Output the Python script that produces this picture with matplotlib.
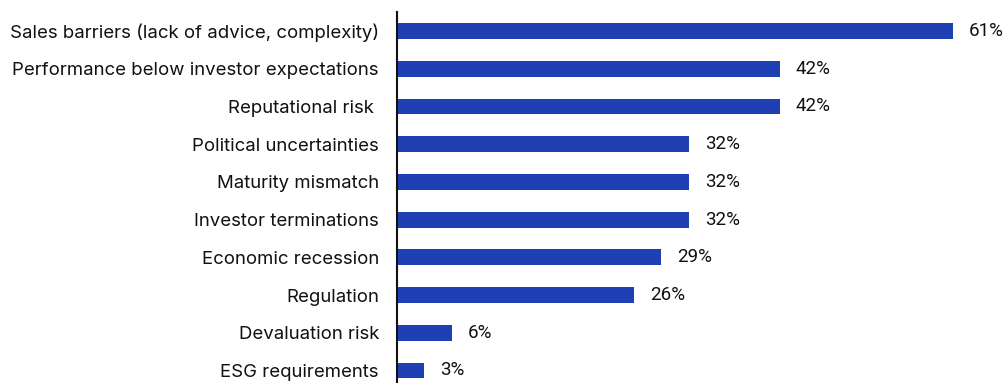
import matplotlib.pyplot as plt

categories = [
    'Sales barriers (lack of advice, complexity)',
    'Performance below investor expectations',
    'Reputational risk ',
    'Political uncertainties',
    'Maturity mismatch',
    'Investor terminations',
    'Economic recession',
    'Regulation',
    'Devaluation risk',
    'ESG requirements',
]
values = [61, 42, 42, 32, 32, 32, 29, 26, 6, 3]

bar_color = '#1f3fb4'
px = 9.115  # pixels per percent point

fig = plt.figure(figsize=(10.06, 3.83), dpi=100)
ax = fig.add_axes([397 / 1006, 0, 1 - 397 / 1006, 1 - 12 / 383])

pos = list(range(len(categories)))
ax.barh(pos, values, height=0.42, color=bar_color)

for i, v in enumerate(values):
    ax.annotate(f'{v}%', (v, i), xytext=(16, 0), textcoords='offset pixels',
                va='center', ha='left', fontsize=13.5, family='Roboto', color='#111111')

ax.set_xlim(0, 609 / px)
top = (12 - 31) / 37.72
bottom = (383 - 31) / 37.72
ax.set_ylim(bottom, top)

ax.set_yticks(pos)
ax.set_yticklabels(categories, fontsize=13.4, family='Inter', color='#111111')
ax.tick_params(axis='y', length=0, pad=13)
ax.set_xticks([])

for s in ['top', 'right', 'bottom']:
    ax.spines[s].set_visible(False)
ax.spines['left'].set_linewidth(1.5)
ax.spines['left'].set_color('#111111')

plt.savefig('out.png', dpi=100)
